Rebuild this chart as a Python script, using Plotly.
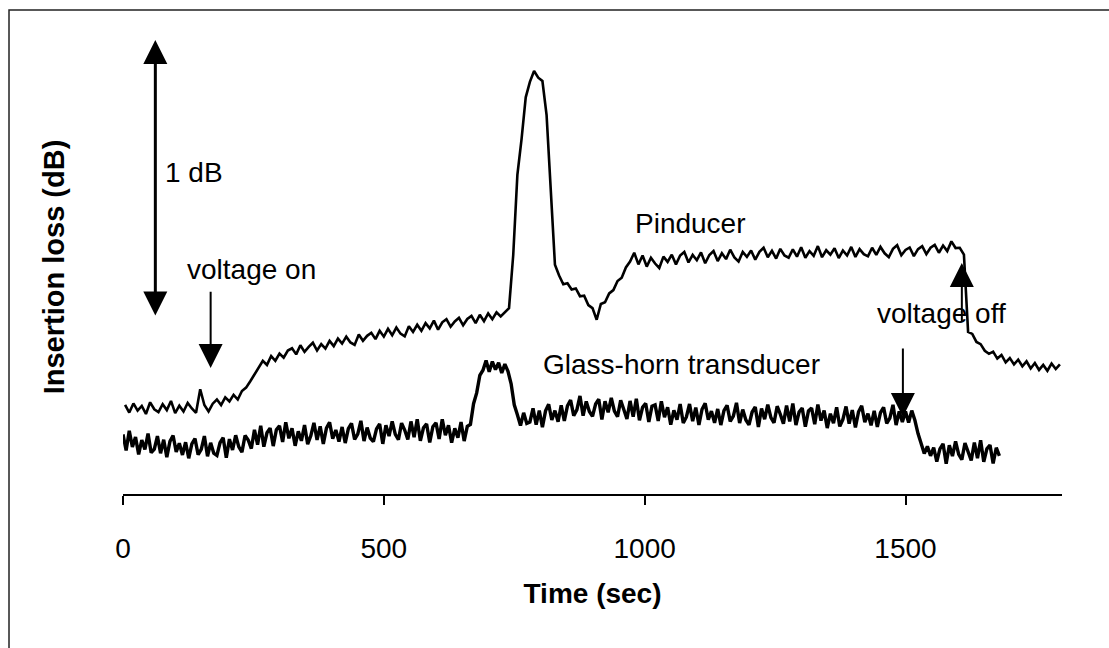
import plotly.graph_objects as go

# ---------------- data ----------------
# Pinducer insertion loss (relative dB), sampled every 8 s starting at t = 4 s
pinducer_start, pinducer_step = 4, 8
pinducer_db = [
    0.322, 0.294, 0.327, 0.301, 0.318, 0.289, 0.331, 0.306, 0.296, 0.324,
    0.303, 0.336, 0.292, 0.319, 0.298, 0.329, 0.309, 0.293, 0.378, 0.321,
    0.298, 0.326, 0.341, 0.321, 0.349, 0.334, 0.358, 0.341, 0.372, 0.384,
    0.407, 0.431, 0.458, 0.481, 0.466, 0.498, 0.481, 0.507, 0.492, 0.518,
    0.526, 0.504, 0.537, 0.513, 0.531, 0.546, 0.518, 0.541, 0.525, 0.553,
    0.534, 0.561, 0.543, 0.568, 0.547, 0.538, 0.576, 0.553, 0.571, 0.582,
    0.559, 0.589, 0.568, 0.596, 0.573, 0.601, 0.579, 0.569, 0.606, 0.585,
    0.611, 0.589, 0.617, 0.598, 0.626, 0.593, 0.620, 0.631, 0.604, 0.623,
    0.636, 0.609, 0.632, 0.643, 0.617, 0.647, 0.624, 0.652, 0.631, 0.656,
    0.641, 0.658, 0.671, 0.862, 1.152, 1.281, 1.432, 1.488, 1.527, 1.503,
    1.491, 1.368, 1.095, 0.828, 0.789, 0.757, 0.761, 0.738, 0.742, 0.714,
    0.716, 0.682, 0.671, 0.629, 0.686, 0.692, 0.724, 0.736, 0.769, 0.781,
    0.818, 0.839, 0.871, 0.829, 0.861, 0.821, 0.853, 0.832, 0.816, 0.857,
    0.838, 0.864, 0.829, 0.861, 0.874, 0.836, 0.863, 0.844, 0.872, 0.833,
    0.863, 0.877, 0.841, 0.869, 0.848, 0.882, 0.854, 0.839, 0.874, 0.856,
    0.879, 0.846, 0.874, 0.889, 0.855, 0.878, 0.850, 0.885, 0.861, 0.853,
    0.883, 0.857, 0.891, 0.853, 0.877, 0.860, 0.895, 0.855, 0.880, 0.864,
    0.887, 0.852, 0.879, 0.861, 0.892, 0.856, 0.884, 0.866, 0.858, 0.889,
    0.863, 0.892, 0.869, 0.855, 0.885, 0.898, 0.862, 0.881, 0.890, 0.859,
    0.884, 0.895, 0.866, 0.889, 0.899, 0.871, 0.897, 0.877, 0.912, 0.888,
    0.889, 0.864, 0.585, 0.578, 0.549, 0.541, 0.517, 0.506, 0.514, 0.489,
    0.502, 0.475, 0.491, 0.468, 0.485, 0.461, 0.479, 0.453, 0.473, 0.448,
    0.466, 0.445, 0.471, 0.451, 0.468,
]

# Glass-horn transducer insertion loss (relative dB), sampled every 6 s from t = 0 s
glass_start, glass_step = 0, 6
glass_horn_db = [
    0.215, 0.157, 0.228, 0.170, 0.206, 0.143, 0.195, 0.161, 0.218, 0.149,
    0.162, 0.209, 0.147, 0.196, 0.133, 0.190, 0.211, 0.152, 0.183, 0.141,
    0.187, 0.129, 0.181, 0.200, 0.142, 0.161, 0.209, 0.136, 0.185, 0.147,
    0.139, 0.185, 0.203, 0.131, 0.198, 0.159, 0.212, 0.170, 0.151, 0.211,
    0.195, 0.164, 0.232, 0.178, 0.246, 0.171, 0.221, 0.238, 0.173, 0.232,
    0.246, 0.188, 0.259, 0.201, 0.237, 0.174, 0.226, 0.192, 0.249, 0.180,
    0.210, 0.257, 0.195, 0.244, 0.181, 0.238, 0.259, 0.200, 0.231, 0.189,
    0.242, 0.184, 0.236, 0.255, 0.197, 0.216, 0.264, 0.191, 0.240, 0.202,
    0.189, 0.235, 0.253, 0.181, 0.248, 0.209, 0.262, 0.215, 0.196, 0.256,
    0.231, 0.197, 0.262, 0.205, 0.270, 0.192, 0.239, 0.253, 0.186, 0.243,
    0.257, 0.199, 0.270, 0.212, 0.248, 0.185, 0.237, 0.203, 0.260, 0.191,
    0.244, 0.251, 0.326, 0.365, 0.428, 0.447, 0.482, 0.441, 0.478, 0.449,
    0.474, 0.437, 0.469, 0.443, 0.398, 0.322, 0.286, 0.247, 0.293, 0.255,
    0.260, 0.309, 0.250, 0.301, 0.241, 0.300, 0.324, 0.267, 0.301, 0.261,
    0.320, 0.264, 0.318, 0.339, 0.283, 0.304, 0.354, 0.283, 0.334, 0.298,
    0.280, 0.325, 0.342, 0.269, 0.335, 0.295, 0.347, 0.299, 0.279, 0.338,
    0.305, 0.271, 0.336, 0.279, 0.344, 0.266, 0.313, 0.327, 0.260, 0.317,
    0.322, 0.264, 0.335, 0.277, 0.313, 0.250, 0.302, 0.268, 0.325, 0.256,
    0.278, 0.325, 0.263, 0.312, 0.249, 0.306, 0.327, 0.268, 0.299, 0.257,
    0.307, 0.249, 0.301, 0.320, 0.262, 0.281, 0.329, 0.256, 0.305, 0.267,
    0.250, 0.296, 0.314, 0.242, 0.309, 0.270, 0.323, 0.276, 0.257, 0.317,
    0.288, 0.254, 0.319, 0.262, 0.327, 0.249, 0.296, 0.310, 0.243, 0.300,
    0.310, 0.252, 0.323, 0.265, 0.301, 0.238, 0.290, 0.256, 0.313, 0.244,
    0.269, 0.316, 0.254, 0.303, 0.240, 0.297, 0.318, 0.259, 0.290, 0.248,
    0.300, 0.242, 0.294, 0.313, 0.255, 0.274, 0.322, 0.249, 0.298, 0.260,
    0.298, 0.258, 0.301, 0.266, 0.218, 0.181, 0.146, 0.172, 0.138, 0.167,
    0.117, 0.163, 0.181, 0.109, 0.176, 0.137, 0.190, 0.143, 0.124, 0.184,
    0.155, 0.121, 0.186, 0.129, 0.194, 0.116, 0.163, 0.177, 0.110, 0.167,
    0.138,
]

pinducer_t = list(range(pinducer_start, pinducer_start + pinducer_step * len(pinducer_db), pinducer_step))
glass_t = list(range(glass_start, glass_start + glass_step * len(glass_horn_db), glass_step))

x_tickvals = [0, 500, 1000, 1500]
x_ticktext = ["0", "500", "1000", "1500"]
x_range = [0, 1800]
y_range = [0, 1.639]

# annotation anchors (time s, dB)
scale_bar = dict(t=62, low=0.639, high=1.639)
voltage_on_arrow = dict(t=168, tail=0.736, tip=0.455)
voltage_off_down = dict(t=1495, tail=0.531, tip=0.278)
voltage_off_up = dict(t=1608, tail=0.617, tip=0.834)

FONT = "Arial, Liberation Sans, sans-serif"

fig = go.Figure()
fig.add_trace(go.Scatter(x=glass_t, y=glass_horn_db, mode="lines",
                         line=dict(color="black", width=3.4), name="Glass-horn transducer",
                         showlegend=False))
fig.add_trace(go.Scatter(x=pinducer_t, y=pinducer_db, mode="lines",
                         line=dict(color="black", width=2.6), name="Pinducer",
                         showlegend=False))

annotations = []
# 1 dB scale bar (double-headed)
annotations.append(dict(x=scale_bar["t"], y=scale_bar["high"], ax=scale_bar["t"], ay=scale_bar["low"],
                        xref="x", yref="y", axref="x", ayref="y", text="", showarrow=True,
                        arrowside="end+start", arrowhead=2, startarrowhead=2,
                        arrowsize=1.6, startarrowsize=1.6, arrowwidth=3, arrowcolor="black"))
for a, w, s in [(voltage_on_arrow, 2, 2.4), (voltage_off_down, 2, 2.4), (voltage_off_up, 2, 2.4)]:
    annotations.append(dict(x=a["t"], y=a["tip"], ax=a["t"], ay=a["tail"],
                            xref="x", yref="y", axref="x", ayref="y", text="", showarrow=True,
                            arrowhead=2, arrowsize=s, arrowwidth=w, arrowcolor="black"))

labels = [
    ("1 dB", 77, 1.162),
    ("voltage on", 119, 0.809),
    ("Pinducer", 977, 0.978),
    ("Glass-horn transducer", 802, 0.469),
    ("voltage off", 1441, 0.653),
]
for txt, tx, ty in labels:
    annotations.append(dict(x=tx, y=ty, xref="x", yref="y", text=txt, showarrow=False,
                            xanchor="left", yanchor="middle",
                            font=dict(family=FONT, size=28, color="black")))

fig.update_layout(
    width=1109, height=648,
    margin=dict(l=123, r=47, t=40, b=154),
    paper_bgcolor="white", plot_bgcolor="white",
    font=dict(family=FONT, color="black"),
    annotations=annotations,
    shapes=[dict(type="rect", xref="paper", yref="paper",
                 x0=-0.1214, x1=1.08, y0=-0.40, y1=1.066,
                 line=dict(color="#222222", width=1.5), layer="below")],
    xaxis=dict(range=x_range, tickvals=x_tickvals, ticktext=x_ticktext,
               showline=True, linecolor="black", linewidth=1.5,
               ticks="outside", ticklen=9, tickwidth=1.5, tickcolor="black",
               showgrid=False, zeroline=False, ticklabelstandoff=20,
               tickfont=dict(family=FONT, size=28, color="black"),
               title=dict(text="<b>Time (sec)</b>", standoff=20,
                          font=dict(family=FONT, size=28, color="black"))),
    yaxis=dict(range=y_range, showline=False, showticklabels=False, ticks="",
               showgrid=False, zeroline=False,
               title=dict(text="<b>Insertion loss (dB)</b>", standoff=48,
                          font=dict(family=FONT, size=29, color="black"))),
)

fig.write_html("out.html")
